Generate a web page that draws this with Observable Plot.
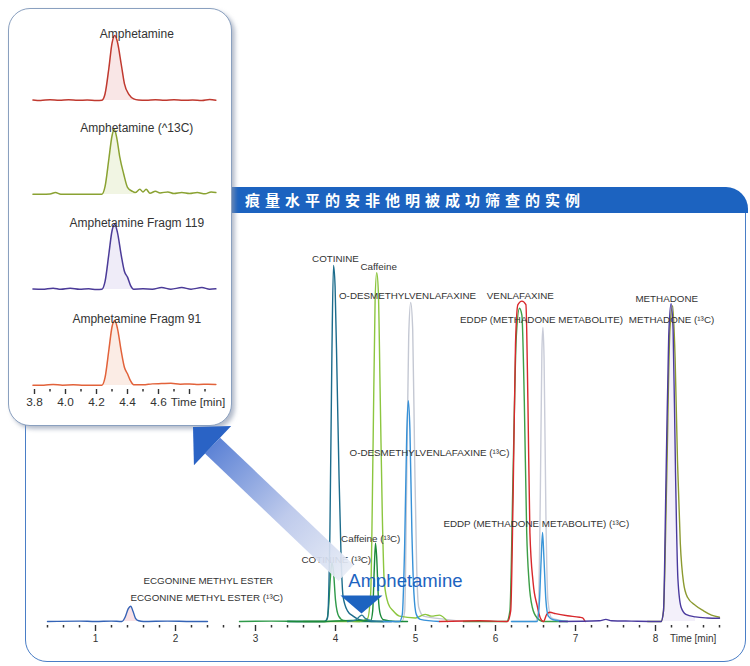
<!DOCTYPE html>
<html><head><meta charset="utf-8">
<script src="https://cdn.jsdelivr.net/npm/d3@7"></script>
<script src="https://cdn.jsdelivr.net/npm/@observablehq/plot@0.6"></script>
<style>
body{margin:0;background:#fff;}
#root{position:relative;width:750px;height:666px;overflow:hidden;font-family:"Liberation Sans",Arial,sans-serif;}
.panel{position:absolute;left:25px;top:190px;width:721px;height:472px;border:1.5px solid #4a7ec6;border-radius:22px;box-sizing:border-box;}
.band{position:absolute;left:200px;top:187px;width:548px;height:26px;background:#1c63c0;border-top-right-radius:22px;box-sizing:border-box;padding-left:45px;color:#fff;font:bold 15px "Noto Sans CJK SC",sans-serif;letter-spacing:5px;line-height:26px;white-space:nowrap;}
.inset{position:absolute;left:8px;top:8px;width:224px;height:418px;border:1.3px solid #8aa0bf;border-radius:22px;background:#fff;box-shadow:3px 3px 4px rgba(140,152,175,.65);box-sizing:border-box;}
.abs{position:absolute;left:0;}
</style></head>
<body><div id="root">
<div class="panel"></div>
<div class="band">痕量水平的安非他明被成功筛查的实例</div>
</div>
<script>
// ---------- main chromatogram traces: [time (min), relative intensity] ----------
const ecgonine = [[0.4,0],[0.8,0.1],[1.0,0],[1.2,0.1],[1.33,0],[1.37,1.2],[1.41,3.6],[1.44,4.3],[1.47,2.8],[1.5,0.9],[1.54,0.2],[1.6,0],[1.9,0.1],[2.2,0],[2.4,0]];
const cotinine13C = [[2.8,0],[3.2,0.1],[3.6,0],[3.88,0],[3.91,3],[3.935,12],[3.955,16.5],[3.975,14],[4.0,6],[4.04,1.5],[4.1,0.3],[4.3,0],[4.6,0]];
const caffeine13C = [[3.4,0],[3.8,0],[4.2,0.3],[4.44,0.3],[4.465,3],[4.485,15],[4.5,22],[4.515,18],[4.535,7],[4.56,2],[4.6,0.5],[4.75,0],[4.9,0]];
const cotinine = [[3.4,0],[3.86,0],[3.9,1],[3.93,25],[3.955,75],[3.975,100],[3.995,94],[4.02,68],[4.045,40],[4.07,18],[4.095,7],[4.15,3],[4.22,1.5],[4.3,0.5],[4.45,0],[4.7,0]];
const caffeine = [[3.6,0],[4.3,0],[4.4,0.8],[4.44,8],[4.47,50],[4.495,90],[4.515,98],[4.535,93],[4.56,62],[4.585,30],[4.61,11],[4.66,5],[4.72,3],[4.8,1.5],[5.0,1],[5.12,2],[5.2,1.5],[5.3,1.8],[5.4,0]];
const amphetamineMain = [[4.15,0],[4.25,0.4],[4.3,1.4],[4.33,1.8],[4.37,0.9],[4.45,0.2],[4.6,0]];
const odv = [[4.6,0],[4.83,0],[4.865,3],[4.89,40],[4.915,80],[4.94,89.6],[4.965,82],[4.99,45],[5.015,15],[5.04,4],[5.1,1.5],[5.3,0.8],[5.6,0]];
const odv13C = [[4.6,0],[4.8,0],[4.835,2],[4.865,22],[4.89,52],[4.91,62],[4.93,54],[4.955,25],[4.98,8],[5.01,2],[5.06,0.6],[5.3,0]];
const venlafaxine = [[5.3,0],[5.8,0.2],[6.15,0],[6.19,3],[6.22,35],[6.25,78],[6.28,89],[6.33,90],[6.38,89],[6.405,62],[6.43,25],[6.47,11],[6.52,4.5],[6.56,1],[6.6,0],[6.64,2],[6.68,2.6],[6.75,2.2],[6.9,1.6],[7.05,1.2],[7.09,1],[7.12,0]];
const venlafaxineQ = [[5.6,0],[6.14,0],[6.18,3],[6.22,42],[6.26,80],[6.3,88],[6.33,86],[6.36,62],[6.39,25],[6.42,11],[6.46,4],[6.52,1],[6.6,0],[6.9,0]];
const eddp = [[6.2,0],[6.5,0],[6.535,3],[6.56,35],[6.58,76],[6.593,82.6],[6.607,74],[6.63,30],[6.655,6],[6.7,1],[6.8,0.4],[6.9,0]];
const eddp13C = [[6.2,0],[6.52,0],[6.55,6],[6.57,17],[6.588,25],[6.605,18],[6.63,6],[6.66,1.5],[6.72,0.5],[6.9,0]];
const methadone = [[6.8,0],[7.3,0.2],[7.38,0.6],[7.45,0.2],[7.7,0.1],[8.07,0],[8.1,3],[8.13,38],[8.165,80],[8.195,89.3],[8.22,82],[8.25,42],[8.28,12],[8.32,4],[8.38,2],[8.5,1.3],[8.65,1],[8.8,0.9]];
const methadone13C = [[7.9,0],[8.07,0],[8.1,3],[8.14,40],[8.18,82],[8.215,88.7],[8.245,74],[8.275,45],[8.31,22],[8.35,11],[8.4,6.8],[8.5,4.5],[8.6,3],[8.7,1.8],[8.8,1.2]];

// peak labels: [time, intensity, text]
const mainLabels = [
  [4.0,102,"COTININE"],[4.54,99.7,"Caffeine"],[4.9,91.6,"O-DESMETHYLVENLAFAXINE"],
  [6.31,91.6,"VENLAFAXINE"],[6.575,84.6,"EDDP (METHADONE METABOLITE)"],
  [8.14,90.7,"METHADONE"],[8.2,84.6,"METHADONE (¹³C)"],
  [5.175,47.5,"O-DESMETHYLVENLAFAXINE (¹³C)"],[6.51,27.5,"EDDP (METHADONE METABOLITE) (¹³C)"],
  [4.44,23.3,"Caffeine (¹³C)"],[4.01,17.4,"COTININE (¹³C)"],
  [2.41,11.5,"ECGONINE METHYL ESTER"],[2.39,6.7,"ECGONINE METHYL ESTER (¹³C)"]
];
const mainMajorTicks = [1,2,3,4,5,6,7,8];

// ---------- inset (amphetamine ions) ----------
const ampQuant = [[3.79,0.8],[3.84,0],[3.9,1.2],[3.96,0.3],[4.02,1],[4.08,0.2],[4.14,0.8],[4.2,0],[4.235,0.5],[4.255,10],[4.28,50],[4.3,88],[4.318,100],[4.335,90],[4.36,55],[4.38,26],[4.41,9],[4.44,2.5],[4.47,0.8],[4.52,0.5],[4.58,1.2],[4.64,0.3],[4.7,1],[4.76,0.2],[4.82,0.8],[4.88,0],[4.93,1.5],[4.97,0.5]];
const amp13C = [[3.79,0.5],[3.85,0.5],[3.9,0.8],[3.935,3],[3.97,0.5],[4.05,0.5],[4.15,0.3],[4.235,0.5],[4.255,12],[4.28,55],[4.3,90],[4.315,100],[4.33,88],[4.35,58],[4.375,32],[4.4,11],[4.43,5],[4.45,3],[4.48,8],[4.5,4],[4.52,8],[4.545,2],[4.58,5],[4.61,2.5],[4.66,4],[4.7,1.5],[4.75,3],[4.8,1.5],[4.85,3],[4.9,1],[4.94,4],[4.97,3]];
const amp119 = [[3.79,0.8],[3.85,0.2],[3.92,2],[3.97,0.3],[4.03,1.8],[4.09,0.3],[4.15,1],[4.2,0],[4.235,0.5],[4.255,12],[4.28,55],[4.3,90],[4.318,100],[4.335,88],[4.36,52],[4.38,28],[4.4,19],[4.42,6],[4.44,0.5],[4.5,1],[4.56,0.5],[4.62,3],[4.68,0.5],[4.75,3],[4.81,0.5],[4.88,3],[4.93,0.5],[4.97,1]];
const amp91 = [[3.79,0.5],[3.86,0.5],[3.92,1.5],[3.98,0.5],[4.05,1],[4.12,0.3],[4.2,0.5],[4.235,0.5],[4.255,12],[4.28,55],[4.3,90],[4.318,100],[4.335,88],[4.36,52],[4.38,28],[4.4,18],[4.42,7],[4.44,1],[4.5,1],[4.56,2.5],[4.62,3],[4.68,3.5],[4.74,2],[4.8,2.5],[4.86,1.5],[4.92,2],[4.97,1.5]];
const insetTitles = ["Amphetamine","Amphetamine (^13C)","Amphetamine Fragm 119","Amphetamine Fragm 91"];
const insetMajorTicks = [3.8,4.0,4.2,4.4,4.6,4.8];
const insetMinorTicks = [3.9,4.1,4.3,4.5,4.7,4.9];

// ---------- build ----------
const root = document.getElementById("root");
const rows = a => a.map(([t,v]) => ({t, v}));
const FONT = "'Liberation Sans', Arial, sans-serif";

const traces = [
  [ecgonine, "#3463b6"], [odv, "#c4c8d3"], [eddp, "#c9ccd8"], [cotinine13C, "#2f9a4a"],
  [caffeine, "#8cc63f"], [cotinine, "#1c6c8c"], [caffeine13C, "#1b8a3a"], [amphetamineMain, "#2a7c95"],
  [odv13C, "#3791d8"], [venlafaxineQ, "#3c9e47"], [venlafaxine, "#d8282c"], [eddp13C, "#3a95d8"],
  [methadone13C, "#8c9a30"], [methadone, "#4a3a9e"]
];

const flatTri = {draw(ctx, size){ const r = Math.sqrt(size/Math.PI); ctx.moveTo(-r,-0.43*r); ctx.lineTo(r,-0.43*r); ctx.lineTo(0,0.43*r); ctx.closePath(); }};

const minorMain = d3.range(0.4, 8.81, 0.2).map(d => +d.toFixed(1)).filter(d => !Number.isInteger(d));

const main = Plot.plot({
  width: 750, height: 666, marginBottom: 41, marginTop: 0, marginLeft: 0, marginRight: 0,
  x: {domain: [0, 9], range: [15, 735], label: null},
  y: {domain: [0, 100], range: [621, 265], axis: null, label: null},
  style: {background: "transparent", fontFamily: FONT, overflow: "visible"},
  marks: [
    Plot.areaY(rows(ecgonine).filter(d => d.t >= 1.33 && d.t <= 1.56), {x: "t", y: "v", fill: "#f3c6d0", fillOpacity: 0.5, curve: "monotone-x"}),
    Plot.areaY(rows(methadone).filter(d => d.t >= 8.07 && d.t <= 8.5), {x: "t", y: "v", fill: "#ebe6f6", fillOpacity: 0.6, curve: "monotone-x"}),
    ...traces.map(([a, c]) => Plot.line(rows(a), {x: "t", y: "v", stroke: c, strokeWidth: 1.4, curve: "monotone-x"})),
    Plot.axisX({ticks: minorMain, tickSize: 2.5, tickFormat: () => "", stroke: "#333", strokeWidth: 1.5, label: null}),
    Plot.axisX({ticks: mainMajorTicks, tickSize: 6, tickPadding: 3, fontSize: 10, stroke: "#333", strokeWidth: 1.4, color: "#333", label: null}),
    Plot.axisX({ticks: [8.47], tickSize: 0, tickPadding: 9, fontSize: 10, tickFormat: () => "Time [min]", color: "#333", label: null}),
    Plot.text(mainLabels, {x: d => d[0], y: d => d[1], text: d => d[2], fontSize: 9.8, fill: "#333"}),
    Plot.dot([[4.325, 4.8]], {x: d => d[0], y: d => d[1], symbol: flatTri, r: 21, fill: "#1d63c0", stroke: "none"})
  ]
});
main.classList.add("abs"); main.style.top = "0px";
root.appendChild(main);

// inset box
const box = document.createElement("div"); box.className = "inset"; root.appendChild(box);

const insetData = [ampQuant, amp13C, amp119, amp91];
const insetColors = ["#c0392f", "#8aa232", "#4b3b98", "#e2623a"];
const insetFills = ["#f4d2d2", "#e6eccc", "#e2ddf2", "#f8dcd0"];
const panelTops = [12, 106, 201, 297];
insetData.forEach((arr, i) => {
  const last = i === 3;
  const p = Plot.plot({
    width: 240, height: last ? 120 : 92, marginTop: 17, marginBottom: last ? 28 : 0, marginLeft: 0, marginRight: 0,
    x: {domain: [3.8, 4.8], range: [34, 189], axis: last ? undefined : null, label: null},
    y: {domain: [0, 100], range: [88, 23], axis: null, label: null},
    style: {background: "transparent", fontFamily: FONT, overflow: "visible"},
    marks: [
      Plot.areaY(rows(arr).filter(d => d.t >= 4.235 && d.t <= 4.47), {x: "t", y: "v", fill: insetFills[i], fillOpacity: 0.55, curve: "monotone-x"}),
      Plot.line(rows(arr), {x: "t", y: "v", stroke: insetColors[i], strokeWidth: 1.5, curve: "monotone-x"}),
      Plot.text([insetTitles[i]], {x: () => 4.46, frameAnchor: "top", text: d => d, fontSize: 12, fill: "#333"}),
      ...(last ? [
        Plot.axisX({ticks: insetMinorTicks, tickSize: 2.5, tickFormat: () => "", stroke: "#333", strokeWidth: 1.5, label: null}),
        Plot.axisX({ticks: insetMajorTicks, tickSize: 5, tickPadding: 3, fontSize: 11.8, stroke: "#333", strokeWidth: 1.4, color: "#333", label: null, tickFormat: d => d === 4.8 ? "" : d.toFixed(1)}),
        Plot.axisX({ticks: [4.855], tickSize: 0, tickPadding: 8, fontSize: 11.8, color: "#333", label: null, tickFormat: () => "Time [min]"})
      ] : [])
    ]
  });
  p.classList.add("abs"); p.style.top = panelTops[i] + "px";
  root.appendChild(p);
});

// pointer arrow from the main chart's amphetamine peak to the inset
const sx = main.scale("x"), sy = main.scale("y");
const tail = [sx.apply(4.14), sy.apply(13.5)], tip = [sx.apply(2.225), sy.apply(54.5)];
const dx = tip[0]-tail[0], dy = tip[1]-tail[1], len = Math.hypot(dx, dy);
const u = [dx/len, dy/len], n = [-u[1], u[0]];
const L = 27, hw = 27, w = 11;
const B = [tip[0]-u[0]*L, tip[1]-u[1]*L];
const pt = (p, k) => [p[0]+n[0]*k, p[1]+n[1]*k];
const svg = d3.create("svg").attr("width", 750).attr("height", 666).attr("class", "abs").style("top", "0px").style("pointer-events", "none");
const g = svg.append("defs").append("linearGradient").attr("id", "ag").attr("gradientUnits", "userSpaceOnUse")
  .attr("x1", tail[0]).attr("y1", tail[1]).attr("x2", B[0]).attr("y2", B[1]);
g.append("stop").attr("offset", 0).attr("stop-color", "#e6ebf5");
g.append("stop").attr("offset", 0.45).attr("stop-color", "#b9c6ea");
g.append("stop").attr("offset", 1).attr("stop-color", "#4f78d2");
const shaft = [pt(tail, w), pt(B, w), pt(B, -w), pt(tail, -w)];
svg.append("path").attr("d", "M" + shaft.map(p => p.join(",")).join("L") + "Z").attr("fill", "url(#ag)").attr("opacity", 0.92);
const head = [tip, pt(B, hw), pt(B, -hw)];
svg.append("path").attr("d", "M" + head.map(p => p.join(",")).join("L") + "Z").attr("fill", "#2a63c5");
// blue call-out text drawn above the arrow
svg.append("text").attr("x", sx.apply(4.88)).attr("y", sy.apply(11.2)).attr("dy", "0.32em")
  .attr("text-anchor", "middle").attr("font-family", FONT).attr("font-size", 18.5).attr("fill", "#1d63c0").text("Amphetamine");
root.appendChild(svg.node());
</script>
</body></html>
